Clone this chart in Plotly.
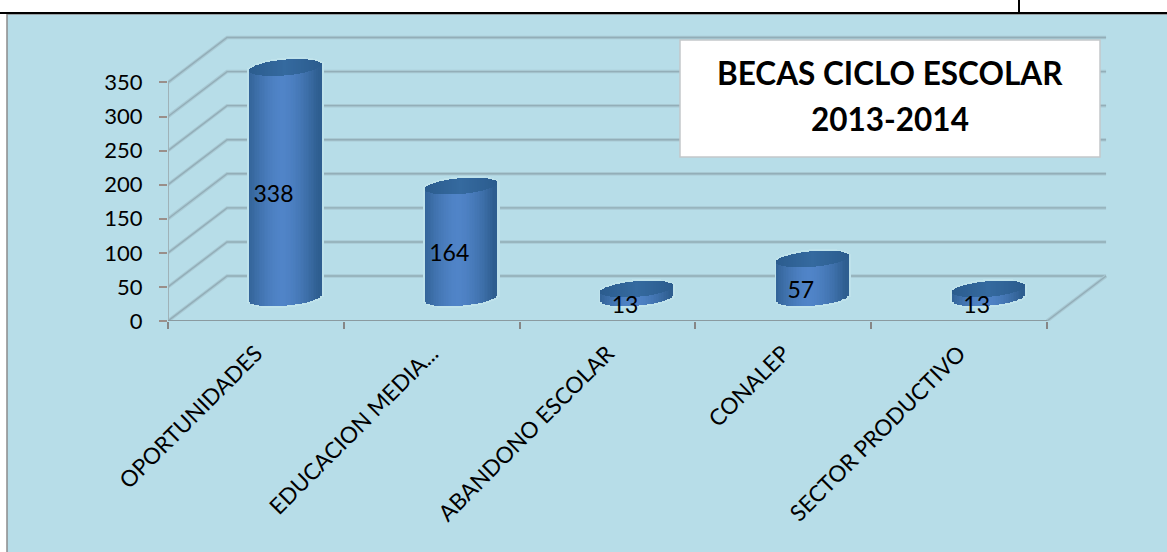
import plotly.graph_objects as go

categories = ["OPORTUNIDADES", "EDUCACION MEDIA...", "ABANDONO ESCOLAR", "CONALEP", "SECTOR PRODUCTIVO"]
values = [338, 164, 13, 57, 13]
y_ticks = [0, 50, 100, 150, 200, 250, 300, 350]
title_lines = ["BECAS CICLO ESCOLAR", "2013-2014"]

W, H = 1167, 552
FONT = "Lato"
X0, X1, Y0, Y350 = 168, 1047, 321, 82.5
DEPTH_X, DEPTH_Y = 0.336, 66       # back wall offset, axis units
BAR_DX, BAR_DY = 0.168, 33.5       # cylinder centre offset inside the depth
RX, RY, TILT = 0.205, 11.5, 4.5
N = 44
GRID = "#93aeb8"
GRID_SOFT = "#a9c9d3"
X_MAX, Y_MAX = 5.5, 450            # room above and right of the front plane for the depth

def lerp_hex(a, b, t):
    ca = [int(a[i:i + 2], 16) for i in (1, 3, 5)]
    cb = [int(b[i:i + 2], 16) for i in (1, 3, 5)]
    return "#" + "".join(f"{round(p + (q - p) * t):02x}" for p, q in zip(ca, cb))

def ellipse(t):
    return (1 - t * t) ** 0.5

fig = go.Figure()

def add_line(xs, ys, color=GRID, soft=GRID_SOFT, width=1.4):
    if soft:
        fig.add_trace(go.Scatter(x=xs, y=ys, mode="lines", cliponaxis=False, hoverinfo="skip", showlegend=False,
                                 line=dict(color=soft, width=3.5)))
    fig.add_trace(go.Scatter(x=xs, y=ys, mode="lines", cliponaxis=False, hoverinfo="skip", showlegend=False,
                             line=dict(color=color, width=width)))

n = len(categories)
for v in y_ticks:
    add_line([0, DEPTH_X, n + DEPTH_X], [v, v + DEPTH_Y, v + DEPTH_Y])
add_line([n, n + DEPTH_X], [0, DEPTH_Y])
add_line([0, 0], [0, y_ticks[-1]], color="#9fb2b8", soft=None, width=2)
add_line([0, n], [0, 0], color="#8a9aa0", soft=None, width=2)

ts = [-1 + (2 * j + 1) / N for j in range(N)]
slice_w = 2 * RX / N * 1.12
for i, v in enumerate(values):
    cx = i + 0.5 + BAR_DX
    xs = [cx + t * RX for t in ts]
    hx = [cx + t * (RX + 0.012) for t in ts]
    hb = [BAR_DY - (RY + 3) * ellipse(t) + TILT * t for t in ts]
    ht = [BAR_DY + v + (RY + 3) * ellipse(t) + TILT * t for t in ts]
    fig.add_trace(go.Bar(x=hx, base=hb, y=[b - a for a, b in zip(hb, ht)], width=slice_w * 1.1, cliponaxis=False,
                         marker=dict(color="#bfe2eb", line=dict(width=0)), xaxis="x2", yaxis="y2",
                         hoverinfo="skip", showlegend=False))
    sb = [BAR_DY - RY * ellipse(t) + TILT * t for t in ts]
    st = [BAR_DY + v + TILT * t for t in ts]
    side_colors = [lerp_hex("#5084c8", "#2e5e90", min(1, abs(t + 0.08)) ** 1.6) for t in ts]
    fig.add_trace(go.Bar(x=xs, base=sb, y=[b - a for a, b in zip(sb, st)], width=slice_w, cliponaxis=False,
                         marker=dict(color=side_colors, line=dict(width=0)), xaxis="x2", yaxis="y2",
                         hoverinfo="skip", showlegend=False))
    cb = [BAR_DY + v - RY * ellipse(t) + TILT * t for t in ts]
    ct = [BAR_DY + v + RY * ellipse(t) + TILT * t for t in ts]
    cap_colors = [lerp_hex("#356a9f", "#2b5c8e", abs(t)) for t in ts]
    fig.add_trace(go.Bar(x=xs, base=cb, y=[b - a for a, b in zip(cb, ct)], width=slice_w, cliponaxis=False,
                         marker=dict(color=cap_colors, line=dict(width=0)), xaxis="x2", yaxis="y2",
                         hoverinfo="skip", showlegend=False))

fig.add_trace(go.Scatter(x=[i + 0.5 + 0.1 for i in range(n)], y=[v / 2 + 14 for v in values],
                         text=[str(v) for v in values], mode="text", cliponaxis=False,
                         textfont=dict(family=FONT, size=23, color="#000000"),
                         xaxis="x2", yaxis="y2", hoverinfo="skip", showlegend=False))

unit_x = (X1 - X0) / n
unit_y = (Y0 - Y350) / y_ticks[-1]
xdom = [X0 / W, (X0 + X_MAX * unit_x) / W]
ydom = [(H - Y0) / H, (H - Y0 + Y_MAX * unit_y) / H]

fig.update_layout(
    width=W, height=H, autosize=False, margin=dict(l=0, r=0, t=0, b=0, pad=0),
    paper_bgcolor="#ffffff", plot_bgcolor="rgba(0,0,0,0)", barmode="overlay", bargap=0,
    font=dict(family=FONT, size=21, color="#000000"), showlegend=False,
    xaxis=dict(domain=xdom, range=[0, X_MAX], automargin=False, tickmode="array",
               tickvals=[i + 0.5 for i in range(n)], ticktext=categories,
               tickangle=-45, ticks="", ticklen=0, ticklabelstandoff=14, showgrid=False, zeroline=False,
               showline=False, tickfont=dict(family=FONT, size=22.5),
               minor=dict(tickmode="array", tickvals=list(range(n + 1)), ticks="outside", ticklen=7,
                          tickcolor="#868686", tickwidth=2, showgrid=False)),
    yaxis=dict(domain=ydom, range=[0, Y_MAX], automargin=False, tickmode="array", tickvals=y_ticks,
               ticks="outside", ticklen=8, tickcolor="#9a8f8a", tickwidth=2, ticklabelstandoff=12,
               showgrid=False, zeroline=False, showline=False, tickfont=dict(family=FONT, size=22)),
    xaxis2=dict(overlaying="x", range=[0, X_MAX], visible=False, anchor="y2", automargin=False),
    yaxis2=dict(overlaying="y", range=[0, Y_MAX], visible=False, anchor="x2", automargin=False),
    shapes=[
        dict(type="rect", xref="paper", yref="paper", x0=7 / W, x1=1.01, y0=-0.01, y1=1 - 14 / H, layer="below",
             fillcolor="#b7dde8", line=dict(color="#8c8c8c", width=1.5)),
        dict(type="line", xref="paper", yref="paper", x0=0, x1=1, y0=1 - 13 / H, y1=1 - 13 / H, layer="above",
             line=dict(color="#000000", width=2)),
        dict(type="line", xref="paper", yref="paper", x0=1019 / W, x1=1019 / W, y0=1, y1=1 - 13 / H, layer="above",
             line=dict(color="#000000", width=2)),
        dict(type="rect", xref="paper", yref="paper", x0=680 / W, x1=1100 / W, y0=1 - 157 / H, y1=1 - 40 / H,
             layer="above", fillcolor="#ffffff", line=dict(color="#c4c8ca", width=1.5)),
    ],
    annotations=[
        dict(text=title_lines[0], xref="paper", yref="paper", x=890 / W, y=1 - 73 / H, showarrow=False,
             xanchor="center", yanchor="middle", font=dict(family=FONT, size=31.5, color="#000000", weight="bold")),
        dict(text=title_lines[1], xref="paper", yref="paper", x=890 / W, y=1 - 119 / H, showarrow=False,
             xanchor="center", yanchor="middle", font=dict(family=FONT, size=31.5, color="#000000", weight="bold")),
    ],
)

fig.write_html("out.html", config={"displayModeBar": False},
               post_script="document.body.style.margin='0';document.documentElement.style.overflow='hidden';")
